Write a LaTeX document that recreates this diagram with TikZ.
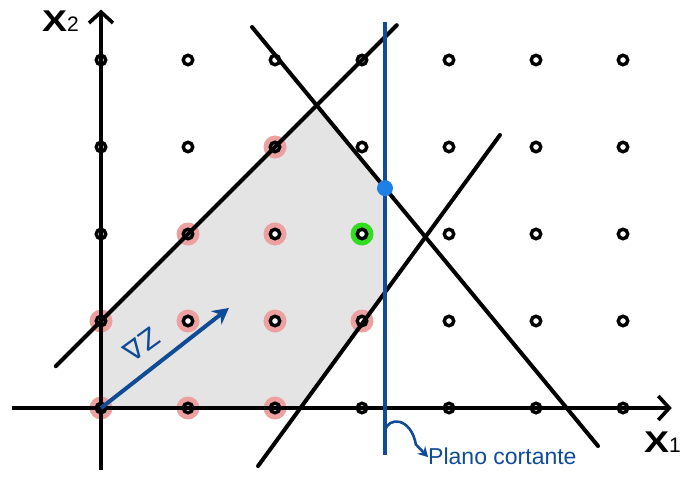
\documentclass[tikz,border=0pt]{standalone}
\usepackage{fontspec}
\setmainfont{Liberation Sans}
\newfontfamily\dejavu{DejaVu Sans}
\usetikzlibrary{arrows.meta,calc}
\definecolor{polygray}{RGB}{228,228,228}
\definecolor{halopink}{RGB}{236,160,160}
\definecolor{halogreen}{RGB}{50,220,30}
\definecolor{cutblue}{RGB}{16,76,150}
\definecolor{ptblue}{RGB}{30,128,230}
\begin{document}
\begin{tikzpicture}[x=87pt,y=87pt,
  axisline/.style={line width=4pt, -{Straight Barb[length=11pt,width=24pt,line width=3.6pt]}},
  constr/.style={line width=4pt, line cap=round},
  ring/.style={circle, draw=black, fill=white, line width=3.4pt, minimum size=9.5pt, inner sep=0pt},
  halo/.style={circle, fill=#1, minimum size=23pt, inner sep=0pt},
  bluelbl/.style={text=cutblue, inner sep=0pt},
]
\useasboundingbox (-1.1609,-0.9885) rectangle (6.7586,4.6897);
\coordinate (O) at (0,0);
\coordinate (A) at (0,1);
\coordinate (B) at (2.478,3.478);
\coordinate (C) at (3.264,2.527);
\coordinate (D) at (3.264,1.329);
\coordinate (E) at (2.2926,0);
\fill[polygray] (O) -- (A) -- (B) -- (C) -- (D) -- (E) -- cycle;
% halos
\foreach \i/\j in {0/0,1/0,2/0,0/1,1/1,2/1,3/1,1/2,2/2,2/3}
  \node[halo=halopink] (h\i\j) at (\i,\j) {};
\node[halo=halogreen] (g32) at (3,2) {};
% lattice points
\foreach \i in {0,...,6}
  \foreach \j in {0,...,4}
    \node[ring] (p\i\j) at (\i,\j) {};
% constraint lines
\coordinate (l1a) at (-0.52,0.48);
\coordinate (l1b) at (3.4,4.4);
\coordinate (l2a) at (1.736,4.379);
\coordinate (l2b) at (5.713,-0.437);
\coordinate (l3a) at (1.805,-0.667);
\coordinate (l3b) at (4.586,3.138);
\draw[constr] (l1a) -- (l1b);
\draw[constr] (l2a) -- (l2b);
\draw[constr] (l3a) -- (l3b);
% axes
\coordinate (xs) at (-1.023,0);
\coordinate (xe) at (6.56,0);
\coordinate (ys) at (0,-0.713);
\coordinate (ye) at (0,4.58);
\draw[axisline] (xs) -- (xe);
\draw[axisline] (ys) -- (ye);
\node[anchor=base west, inner sep=0pt] (x2lbl) at (-0.680,4.322)
  {\fontsize{30}{30}\selectfont\bfseries\scalebox{1.25}[1]{X}\fontsize{21}{21}\selectfont\mdseries 2};
\node[anchor=base west, inner sep=0pt] (x1lbl) at (6.240,-0.517)
  {\fontsize{30}{30}\selectfont\bfseries\scalebox{1.25}[1]{X}\fontsize{21}{21}\selectfont\mdseries 1};
% cutting plane
\coordinate (cs) at (3.264,4.437);
\coordinate (ce) at (3.264,-0.54);
\draw[cutblue, line width=3.6pt] (cs) -- (ce);
\node[circle, fill=ptblue, minimum size=16pt, inner sep=0pt] (bp) at (C) {};
% gradient
\coordinate (gz) at (1.47,1.15);
\draw[cutblue, line width=4pt, -{Stealth[length=16pt,width=17pt]}] (O) -- (gz);
\node[bluelbl, rotate=36, font=\dejavu\fontsize{27}{27}\selectfont] (nab) at (0.47,0.73) {∇Z};
% label
\node[bluelbl, anchor=base west, font=\fontsize{23}{23}\selectfont] (plano) at (3.759,-0.655) {Plano cortante};
\coordinate (cstart) at (3.264,-0.26);
\coordinate (ctip) at (3.76,-0.565);
\draw[cutblue, line width=2.6pt, -{Stealth[length=10pt,width=11pt]}] (cstart) .. controls (3.30,-0.10) and (3.56,-0.10) .. (3.62,-0.42) -- (ctip);
\end{tikzpicture}
\end{document}
